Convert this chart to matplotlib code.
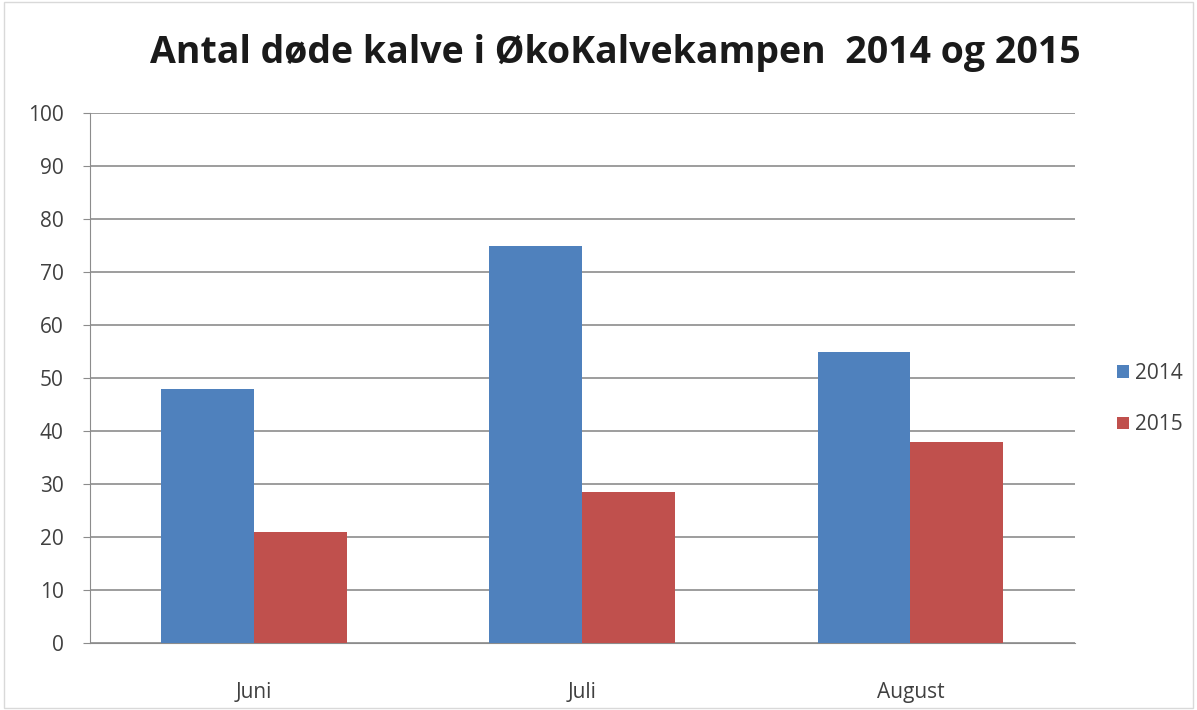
import numpy as np
import matplotlib
matplotlib.use("Agg")
from matplotlib import pyplot as plt

# Data
months = ["Juni", "Juli", "August"]
years = ["2014", "2015"]
dead_2014 = [48, 75, 55]
dead_2015 = [21, 28.5, 38]
colors = ["#4F81BD", "#C0504D"]

plt.rcParams["font.family"] = ["Open Sans", "DejaVu Sans"]

fig = plt.figure(figsize=(11.97, 7.10), dpi=100)
ax = fig.add_axes([0.0752, 0.0944, 0.8225, 0.7464])

x = np.arange(len(months))
w = 0.283
ax.bar(x - w / 2, dead_2014, w, color=colors[0], label=years[0], zorder=3)
ax.bar(x + w / 2, dead_2015, w, color=colors[1], label=years[1], zorder=3)

ax.set_xlim(-0.5, 2.5)
ax.set_ylim(0, 100)
ax.set_yticks(range(0, 101, 10))
ax.set_xticks(x)
ax.set_xticklabels(months)
ax.yaxis.grid(True, color="#8c8c8c", linewidth=1.2, zorder=0)

for side in ["top", "right"]:
    ax.spines[side].set_visible(False)
ax.spines["left"].set_color("#8c8c8c")
ax.spines["bottom"].set_color("#8c8c8c")
ax.tick_params(axis="y", length=5, color="#8c8c8c", labelsize=15, labelcolor="#404040", pad=14)
ax.tick_params(axis="x", length=0, labelsize=15, labelcolor="#404040", pad=28)

fig.text(0.514, 0.926, "Antal døde kalve i ØkoKalvekampen  2014 og 2015",
         ha="center", va="center", fontsize=27, fontweight="bold", color="#1a1a1a")

ax.legend(loc="center left", bbox_to_anchor=(1.035, 0.46), frameon=False,
          fontsize=15, handlelength=0.55, handleheight=0.55, handletextpad=0.3,
          labelspacing=1.45, labelcolor="#404040", borderaxespad=0)

fig.patches.append(plt.Rectangle((0.003, 0.003), 0.994, 0.994, transform=fig.transFigure,
                                 fill=False, edgecolor="#d9d9d9", linewidth=1))

fig.savefig("out.png", dpi=100)
